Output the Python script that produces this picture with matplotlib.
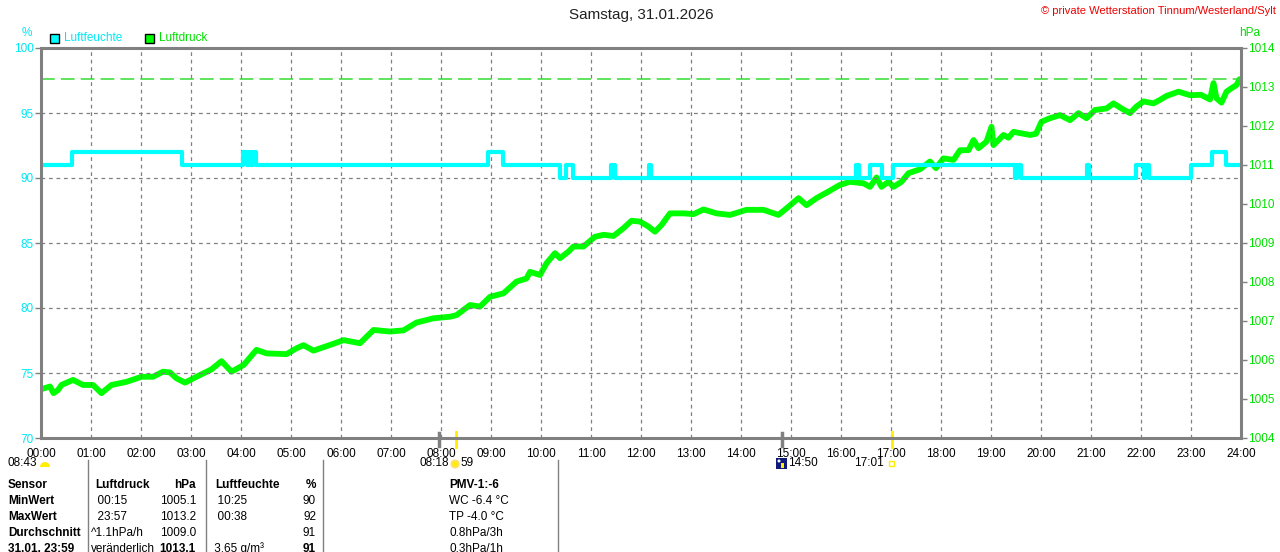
import matplotlib
matplotlib.use('Agg')
import matplotlib.pyplot as plt
from matplotlib.patches import Rectangle, Circle, Wedge
from matplotlib.lines import Line2D
from matplotlib.transforms import IdentityTransform

W, H = 1280, 552

# Luftfeuchte (%) - Sprungzeiten in Stunden und Werte
hum_t = [0.0, 0.61, 2.82, 4.04, 4.12, 4.15, 4.20, 4.23, 4.30, 8.95, 9.23,
         10.38, 10.50, 10.63, 11.39, 11.47, 12.15, 12.19, 16.31, 16.36,
         16.57, 16.83, 17.03, 19.47, 19.51, 19.59, 20.91, 20.95, 21.90,
         22.05, 22.08, 22.15, 22.99, 23.41, 23.69, 24.0]
hum_v = [91, 92, 91, 92, 91, 92, 91, 92, 91, 92, 91,
         90, 91, 90, 91, 90, 91, 90, 91, 90,
         91, 90, 91, 90, 91, 90, 91, 90, 91,
         90, 91, 90, 91, 92, 91, 91]

# Luftdruck (hPa)
p_t = [0.0, 0.18, 0.25, 0.34, 0.41, 0.64, 0.84, 1.04, 1.21, 1.41, 1.71,
       2.01, 2.24, 2.44, 2.58, 2.71, 2.88, 3.11, 3.41, 3.61, 3.81, 4.05,
       4.31, 4.51, 4.91, 5.11, 5.25, 5.45, 5.88, 6.05, 6.38, 6.65, 6.98,
       7.25, 7.51, 7.85, 8.18, 8.31, 8.58, 8.78, 8.98, 9.25, 9.51, 9.71,
       9.78, 9.98, 10.11, 10.28, 10.38, 10.55, 10.65, 10.85, 11.08, 11.25,
       11.45, 11.65, 11.81, 11.98, 12.15, 12.28, 12.41, 12.58, 12.85, 13.05,
       13.25, 13.51, 13.78, 14.11, 14.45, 14.75, 14.95, 15.15, 15.31, 15.51,
       15.75, 15.98, 16.18, 16.45, 16.58, 16.71, 16.81, 16.95, 17.05, 17.21,
       17.35, 17.58, 17.78, 17.90, 18.05, 18.25, 18.38, 18.55, 18.65, 18.75,
       18.91, 19.01, 19.05, 19.25, 19.35, 19.45, 19.78, 19.90, 20.01, 20.18,
       20.38, 20.58, 20.75, 20.91, 21.08, 21.31, 21.45, 21.61, 21.78, 21.91,
       22.05, 22.25, 22.38, 22.51, 22.75, 22.98, 23.20, 23.38, 23.45, 23.51,
       23.61, 23.71, 23.81, 23.91, 23.97, 24.0]
p_v = [1005.25, 1005.32, 1005.15, 1005.23, 1005.36, 1005.49, 1005.36, 1005.36,
       1005.15, 1005.36, 1005.44, 1005.57, 1005.57, 1005.70, 1005.68, 1005.53,
       1005.42, 1005.57, 1005.76, 1005.97, 1005.70, 1005.87, 1006.26, 1006.17,
       1006.15, 1006.30, 1006.38, 1006.24, 1006.43, 1006.51, 1006.43, 1006.77,
       1006.73, 1006.76, 1006.96, 1007.07, 1007.11, 1007.15, 1007.41, 1007.37,
       1007.62, 1007.71, 1008.01, 1008.09, 1008.26, 1008.18, 1008.48, 1008.74,
       1008.61, 1008.78, 1008.91, 1008.91, 1009.16, 1009.21, 1009.18, 1009.38,
       1009.57, 1009.55, 1009.42, 1009.29, 1009.46, 1009.76, 1009.76, 1009.74,
       1009.86, 1009.76, 1009.72, 1009.85, 1009.85, 1009.72, 1009.93, 1010.15,
       1009.97, 1010.15, 1010.32, 1010.49, 1010.57, 1010.53, 1010.44, 1010.68,
       1010.44, 1010.57, 1010.44, 1010.57, 1010.79, 1010.89, 1011.09, 1010.92,
       1011.17, 1011.13, 1011.38, 1011.38, 1011.64, 1011.43, 1011.60, 1011.98,
       1011.51, 1011.77, 1011.70, 1011.85, 1011.77, 1011.80, 1012.11, 1012.20,
       1012.28, 1012.15, 1012.33, 1012.20, 1012.41, 1012.45, 1012.58, 1012.45,
       1012.33, 1012.50, 1012.63, 1012.58, 1012.67, 1012.77, 1012.88, 1012.79,
       1012.80, 1012.68, 1013.10, 1012.71, 1012.60, 1012.88, 1012.97, 1013.05,
       1013.20, 1013.15]
p_max = 1013.2

hours = list(range(25))
hour_labels = [f'{h:02d}:00' for h in hours]
hum_ticks = [70, 75, 80, 85, 90, 95, 100]
p_ticks = list(range(1004, 1015))

table_rows = [
    ['Sensor', 'Luftdruck', 'hPa', 'Luftfeuchte', '%', 'PMV-1:-6'],
    ['MinWert', '  00:15', '1005.1', '  10:25', '90', 'WC -6.4 °C'],
    ['MaxWert', '  23:57', '1013.2', '  00:38', '92', 'TP -4.0 °C'],
    ['Durchschnitt', '^1.1hPa/h', '1009.0', '', '91', '0.8hPa/3h'],
    ['31.01. 23:59', 'veränderlich', '1013.1', ' 3.65 g/m³', '91', '0.3hPa/1h'],
]

CYAN = '#00ffff'
CYAN_T = '#00e8f4'
GREEN = '#00ff00'
GREEN_T = '#00e000'
GRAY = '#808080'
YELLOW = '#ffee00'
FONT = 'Liberation Sans'

plt.rcParams['font.family'] = [FONT, 'DejaVu Sans']

fig = plt.figure(figsize=(W / 100, H / 100), dpi=100)
fig.patch.set_facecolor('white')
PIX = IdentityTransform()


def fx(x):
    return x / W


def fy(y):
    return 1 - y / H


left, right, top, bottom = 41, 1241, 48, 438
ax = fig.add_axes([fx(left), fy(bottom), (right - left) / W, (bottom - top) / H])
ax2 = ax.twinx()
ax.set_zorder(ax2.get_zorder() + 1)
ax.patch.set_visible(False)

# Luftdruck
ax2.plot(p_t, p_v, color=GREEN, lw=4.2, solid_joinstyle='round')
ax2.axhline(p_max, color='#33dd33', lw=1.1, dashes=(9, 4))
ax2.set_ylim(1004, 1014)
ax2.set_yticks(p_ticks)
ax2.tick_params(axis='y', colors=GRAY, labelcolor=GREEN_T, labelsize=8.5,
                length=4, width=1, pad=1, direction='out')
for s in ax2.spines.values():
    s.set_visible(False)

# Luftfeuchte
ax.plot(hum_t, hum_v, color=CYAN, lw=3, drawstyle='steps-post')
ax.set_xlim(0, 24)
ax.set_ylim(70, 100)
ax.set_xticks(hours)
ax.set_xticklabels(hour_labels)
ax.set_yticks(hum_ticks)
ax.tick_params(axis='y', colors=GRAY, labelcolor=CYAN_T, labelsize=8.5,
               length=4, width=1, pad=1, direction='out')
ax.tick_params(axis='x', length=0, labelsize=8.5, pad=7, labelcolor='black')
ax.grid(True, color=GRAY, lw=0.9, dashes=(3, 3))
for name, s in ax.spines.items():
    s.set_color(GRAY)
    s.set_linewidth(2.2)

# Marker unter der Achse
for t in [7.96, 14.82]:
    ax.plot([t, t], [-0.021, 0.013], color=GRAY, lw=2.5,
            transform=ax.get_xaxis_transform(), clip_on=False)
for t in [8.3, 17.02]:
    ax.plot([t, t], [-0.023, 0.016], color=YELLOW, lw=2,
            transform=ax.get_xaxis_transform(), clip_on=False)

# Titel, Copyright
fig.text(fx(641), fy(15), 'Samstag, 31.01.2026', ha='center', va='center',
         fontsize=11, color='#222222')
fig.text(fx(1276), fy(11), '© private Wetterstation Tinnum/Westerland/Sylt',
         ha='right', va='center', fontsize=8, color='#ee0000')

# Einheiten und Legende
fig.text(fx(27), fy(33), '%', ha='center', va='center', fontsize=8.5, color=CYAN_T)
fig.text(fx(1250), fy(33), 'hPa', ha='center', va='center', fontsize=8.5, color=GREEN_T)
for x0, col, lab, tcol in [(50, CYAN, 'Luftfeuchte', CYAN_T), (145, GREEN, 'Luftdruck', GREEN_T)]:
    fig.add_artist(Rectangle((x0, H - 43), 9, 9, transform=PIX,
                             facecolor=col, edgecolor='black', lw=1))
    fig.text(fx(x0 + 14), fy(38), lab, ha='left', va='center', fontsize=8.5, color=tcol)

# Sonnen-/Mondzeiten
ty = fy(463)
fig.text(fx(8), ty, '08:43', ha='left', va='center', fontsize=8.5)
fig.add_artist(Wedge((45, H - 467), 5, 0, 180, transform=PIX,
                     facecolor=YELLOW, edgecolor='none'))
fig.text(fx(449), ty, '08:18', ha='right', va='center', fontsize=8.5)
fig.text(fx(460), ty, '59', ha='left', va='center', fontsize=8.5)
fig.add_artist(Circle((455, H - 464), 3.5, transform=PIX,
                      facecolor=YELLOW, edgecolor='#ffe066', lw=1.5))
fig.add_artist(Rectangle((776, H - 469), 11, 11, transform=PIX,
                         facecolor='#101a7a', edgecolor='none'))
fig.add_artist(Circle((779, H - 461), 1.5, transform=PIX,
                      facecolor='white', edgecolor='none'))
fig.add_artist(Rectangle((781, H - 468), 3, 5, transform=PIX,
                         facecolor=YELLOW, edgecolor='none'))
fig.text(fx(788), ty, '14:50', ha='left', va='center', fontsize=8.5)
fig.text(fx(884), ty, '17:01', ha='right', va='center', fontsize=8.5)
fig.add_artist(Rectangle((889, H - 466), 5, 5, transform=PIX,
                         facecolor='none', edgecolor=YELLOW, lw=1))

# Tabelle
for x in [88, 206, 323, 558]:
    fig.add_artist(Line2D([fx(x), fx(x)], [fy(460), fy(552)], color=GRAY, lw=1,
                          transform=fig.transFigure))

row_y = [485, 501, 517, 533, 549]
col_x = [(8, 'left'), (91, 'left'), (196, 'right'), (211, 'left'), (316, 'right'), (449, 'left')]
for i, row in enumerate(table_rows):
    for j, txt in enumerate(row):
        bold = i == 0 or j == 0 or (i == 4 and j in (2, 4))
        x, ha = col_x[j]
        if i == 0 and j in (1, 3):
            x += 4
        fig.text(fx(x), fy(row_y[i]), txt, ha=ha, va='center', fontsize=8.5,
                 fontweight='bold' if bold else 'normal', color='black')

fig.savefig('out.png', dpi=100)
